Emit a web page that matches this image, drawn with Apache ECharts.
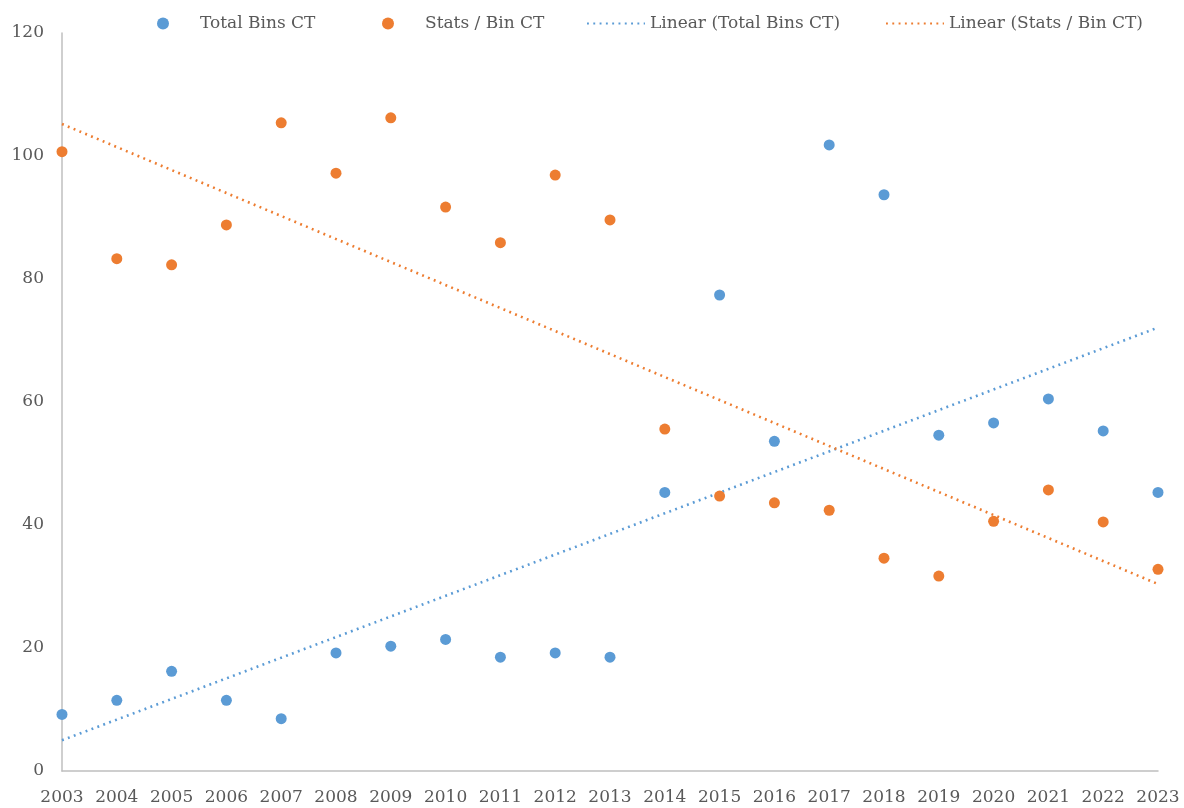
<!DOCTYPE html>
<html>
<head>
<meta charset="utf-8">
<title>Total Bins CT vs Stats / Bin CT</title>
<script src="https://cdn.jsdelivr.net/npm/echarts@6/dist/echarts.min.js"></script>
<style>
  html, body { margin: 0; padding: 0; background: #fff; }
  #chart { width: 1184px; height: 808px; }
</style>
</head>
<body>
<div id="chart"></div>
<script>
// years on the x axis
var years = [2003, 2004, 2005, 2006, 2007, 2008, 2009, 2010, 2011, 2012, 2013,
  2014, 2015, 2016, 2017, 2018, 2019, 2020, 2021, 2022, 2023];

var totalBins = [9.2, 11.5, 16.2, 11.5, 8.5, 19.2, 20.3, 21.4, 18.5, 19.2, 18.5,
  45.3, 77.4, 53.6, 101.8, 93.7, 54.6, 56.6, 60.5, 55.3, 45.3];

var statsPerBin = [100.7, 83.3, 82.3, 88.8, 105.4, 97.2, 106.2, 91.7, 85.9, 96.9, 89.6,
  55.6, 44.7, 43.6, 42.4, 34.6, 31.7, 40.6, 45.7, 40.5, 32.8];

// trendline ends (first year, last year)
var trendYears = [2003, 2023];
var trendTotal = [5.0, 72.1];
var trendStats = [105.2, 30.4];

var yTicks = [0, 20, 40, 60, 80, 100, 120];

var blue = '#5B9BD5';
var orange = '#ED7D31';
var textColor = '#595959';
var font = 'DejaVu Serif';

function pairs(xs, ys) {
  return xs.map(function (x, i) { return [x, ys[i]]; });
}

var chart = echarts.init(document.getElementById('chart'));

// scatter legend: small dot, then a wide gap before the text (Excel look)
function dotLegend(left, name) {
  return {
    left: left,
    top: 15,
    padding: 0,
    itemWidth: 12,
    itemHeight: 12,
    selectedMode: false,
    data: [name],
    textStyle: { color: textColor, fontSize: 17, fontFamily: font, padding: [0, 0, 0, 26] }
  };
}

// trendline legend: dotted line only, hide the marker
function lineLegend(left, name) {
  return {
    left: left,
    top: 15,
    padding: 0,
    itemWidth: 58,
    itemHeight: 12,
    selectedMode: false,
    itemStyle: { opacity: 0 },
    data: [name],
    textStyle: { color: textColor, fontSize: 17, fontFamily: font }
  };
}

chart.setOption({
  animation: false,
  legend: [
    dotLegend(157, 'Total Bins CT'),
    dotLegend(382, 'Stats / Bin CT'),
    lineLegend(586, 'Linear (Total Bins CT)'),
    lineLegend(885, 'Linear (Stats / Bin CT)')
  ],
  grid: { left: 62, right: 26, top: 33, bottom: 37 },
  xAxis: {
    type: 'value',
    min: years[0],
    max: years[years.length - 1],
    interval: 1,
    splitLine: { show: false },
    axisTick: { show: false },
    axisLine: { lineStyle: { color: '#BFBFBF', width: 1.5 } },
    axisLabel: {
      color: textColor,
      fontSize: 17,
      fontFamily: font,
      margin: 18,
      formatter: function (v) { return String(v); }
    }
  },
  yAxis: {
    type: 'value',
    min: yTicks[0],
    max: yTicks[yTicks.length - 1],
    interval: 20,
    splitLine: { show: false },
    axisTick: { show: false },
    axisLine: { show: true, lineStyle: { color: '#BFBFBF', width: 1.5 } },
    axisLabel: { color: textColor, fontSize: 17, fontFamily: font, margin: 18 }
  },
  series: [
    {
      name: 'Total Bins CT',
      type: 'scatter',
      symbolSize: 11,
      itemStyle: { color: blue, opacity: 1 },
      data: pairs(years, totalBins),
      z: 3
    },
    {
      name: 'Stats / Bin CT',
      type: 'scatter',
      symbolSize: 11,
      itemStyle: { color: orange, opacity: 1 },
      data: pairs(years, statsPerBin),
      z: 3
    },
    {
      name: 'Linear (Total Bins CT)',
      type: 'line',
      symbol: 'none',
      color: blue,
      lineStyle: { color: blue, width: 2.6, type: [1.9, 4.4] },
      data: pairs(trendYears, trendTotal),
      z: 2
    },
    {
      name: 'Linear (Stats / Bin CT)',
      type: 'line',
      symbol: 'none',
      color: orange,
      lineStyle: { color: orange, width: 2.6, type: [1.9, 4.4] },
      data: pairs(trendYears, trendStats),
      z: 2
    }
  ]
});
</script>
</body>
</html>
